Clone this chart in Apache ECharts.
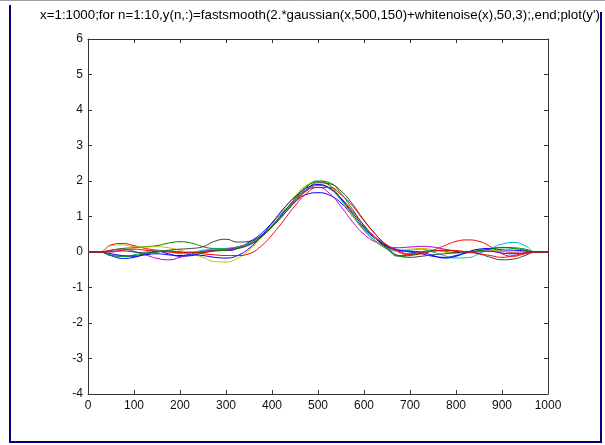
<!DOCTYPE html>
<html>
<head>
<meta charset="utf-8">
<script src="https://cdn.jsdelivr.net/npm/echarts@6/dist/echarts.min.js"></script>
<style>
  html, body { margin: 0; padding: 0; background: #fff; }
  #chart { width: 605px; height: 445px; }
</style>
</head>
<body>
<div id="chart"></div>
<script>
// x positions of the sampled points
var xs = [0, 25, 50, 75, 100, 125, 150, 175, 200, 225, 250, 275, 300, 325, 350, 375, 400, 425, 450, 475,
          500, 525, 550, 575, 600, 625, 650, 675, 700, 725, 750, 775, 800, 825, 850, 875, 900, 925, 950, 975, 1000];

// ten smoothed noisy gaussians
var y1 = [0, 0, -0.10, -0.18, -0.15, -0.05, 0.02, -0.05, -0.12, -0.10, -0.02, 0.05, 0.04, 0.10, 0.28, 0.50, 0.82, 1.15, 1.42, 1.62,
          1.67, 1.60, 1.38, 1.02, 0.66, 0.38, 0.18, 0.06, 0.00, -0.05, -0.12, -0.15, -0.10, -0.02, 0.03, 0.02, -0.03, -0.05, -0.03, 0, 0];
var y2 = [0, 0, 0.05, 0.10, 0.12, 0.15, 0.18, 0.25, 0.29, 0.25, 0.15, 0.10, 0.10, 0.15, 0.25, 0.45, 0.75, 1.12, 1.50, 1.85,
          1.98, 1.88, 1.50, 1.05, 0.62, 0.30, 0.08, -0.10, -0.08, 0.00, 0.05, 0.02, -0.02, 0.00, 0.05, 0.10, 0.13, 0.12, 0.08, 0, 0];
var y3 = [0, 0, 0.20, 0.24, 0.18, 0.10, 0.05, 0.02, 0.00, -0.03, -0.02, 0.03, 0.05, 0.10, 0.20, 0.40, 0.70, 1.05, 1.40, 1.72,
          1.88, 1.80, 1.52, 1.15, 0.75, 0.42, 0.18, 0.00, -0.08, -0.05, 0.05, 0.18, 0.30, 0.34, 0.30, 0.15, -0.05, -0.12, -0.05, 0, 0];
var y4 = [0, 0, -0.08, -0.12, -0.08, 0.00, 0.05, 0.02, -0.05, -0.02, 0.05, 0.08, 0.10, 0.14, 0.25, 0.42, 0.70, 1.05, 1.45, 1.75,
          1.88, 1.78, 1.45, 1.02, 0.62, 0.32, 0.12, 0.02, 0.05, 0.08, 0.00, -0.10, -0.17, -0.16, -0.05, 0.10, 0.22, 0.27, 0.18, 0, 0];
var y5 = [0, 0, 0.05, 0.08, 0.02, -0.08, -0.18, -0.22, -0.15, -0.05, 0.02, 0.05, 0.08, 0.12, 0.22, 0.40, 0.72, 1.10, 1.48, 1.75,
          1.82, 1.65, 1.28, 0.85, 0.50, 0.28, 0.16, 0.12, 0.14, 0.16, 0.14, 0.08, 0.02, -0.02, 0.00, 0.03, 0.02, -0.02, -0.03, 0, 0];
var y6 = [0, 0, 0.18, 0.20, 0.15, 0.14, 0.15, 0.12, 0.05, -0.05, -0.15, -0.27, -0.28, -0.18, 0.05, 0.38, 0.78, 1.20, 1.58, 1.88,
          1.98, 1.85, 1.48, 1.02, 0.60, 0.30, 0.12, 0.06, 0.08, 0.10, 0.06, 0.00, -0.04, 0.00, 0.05, 0.06, 0.02, 0.00, 0.02, 0, 0];
var y7 = [0, 0, 0.02, 0.03, 0.00, -0.03, 0.00, 0.05, 0.08, 0.10, 0.15, 0.30, 0.36, 0.28, 0.30, 0.45, 0.72, 1.05, 1.42, 1.75,
          1.95, 1.92, 1.72, 1.35, 0.90, 0.50, 0.15, -0.10, -0.15, -0.12, -0.08, -0.05, -0.02, 0.00, -0.05, -0.15, -0.22, -0.20, -0.10, 0, 0];
var y8 = [0, 0, -0.05, -0.10, -0.12, -0.08, -0.05, -0.08, -0.10, -0.08, -0.10, -0.15, -0.17, -0.10, 0.10, 0.42, 0.82, 1.22, 1.55, 1.80,
          1.90, 1.80, 1.50, 1.10, 0.70, 0.38, 0.15, 0.05, 0.02, 0.00, -0.10, -0.17, -0.12, 0.00, 0.08, 0.10, 0.06, 0.05, 0.03, 0, 0];
var y9 = [0, 0, -0.10, -0.12, -0.10, -0.05, 0.00, 0.03, 0.00, -0.02, 0.00, 0.03, 0.05, 0.10, 0.20, 0.40, 0.72, 1.10, 1.50, 1.82,
          2.00, 1.95, 1.65, 1.20, 0.75, 0.38, 0.10, -0.12, -0.10, -0.02, 0.03, 0.05, 0.02, 0.00, 0.04, 0.08, 0.12, 0.10, 0.05, 0, 0];
var y10 = [0, 0, 0.00, 0.05, 0.08, 0.05, 0.02, 0.00, -0.02, 0.00, -0.05, -0.08, -0.10, -0.10, -0.05, 0.15, 0.48, 0.88, 1.30, 1.65,
           1.82, 1.82, 1.62, 1.30, 0.88, 0.50, 0.20, 0.02, -0.05, -0.02, 0.02, 0.05, 0.04, 0.00, -0.05, -0.10, -0.15, -0.10, -0.03, 0, 0];

var aoY = [y1, y2, y3, y4, y5, y6, y7, y8, y9, y10];
// old matlab colour order, cycled
var acColor = ['#0000ff', '#008000', '#ff0000', '#00bfbf', '#bf00bf', '#bfbf00', '#404040', '#0000ff', '#008000', '#ff0000'];

var cTitle = "x=1:1000;for n=1:10,y(n,:)=fastsmooth(2.*gaussian(x,500,150)+whitenoise(x),50,3);,end;plot(y')";
var cFont = "'Liberation Sans', Arial, sans-serif";

var aoSer = [];
for (var i = 0; i < aoY.length; i++) {
    var aData = [];
    for (var j = 0; j < xs.length; j++) {
        aData.push([xs[j], aoY[i][j]]);
    }
    aoSer.push({
        type: 'line',
        data: aData,
        smooth: 0.5,
        symbol: 'none',
        silent: true,
        lineStyle: { color: acColor[i], width: 1 },
        z: 2 + i
    });
}

var oAxisLine = { show: true, onZero: false, lineStyle: { color: '#333', width: 1 } };
var oTick = { show: true, inside: true, length: 4, lineStyle: { color: '#333' } };

var oChart = echarts.init(document.getElementById('chart'), null, { renderer: 'canvas' });
oChart.setOption({
    animation: false,
    backgroundColor: '#fff',
    title: {
        text: cTitle,
        left: 315,
        top: 4,
        textAlign: 'center',
        textStyle: { fontFamily: cFont, fontSize: 13.3, fontWeight: 'normal', color: '#000' }
    },
    grid: { left: 88, top: 39, width: 460, height: 355, containLabel: false },
    xAxis: [{
        type: 'value', min: 0, max: 1000, interval: 100,
        position: 'bottom',
        axisLine: oAxisLine, axisTick: oTick,
        axisLabel: { fontFamily: cFont, fontSize: 12, color: '#111', margin: 6,
            formatter: function (v) { return String(v); } },
        splitLine: { show: false }
    }, {
        type: 'value', min: 0, max: 1000, interval: 100,
        position: 'top',
        axisLine: oAxisLine, axisTick: oTick,
        axisLabel: { show: false },
        splitLine: { show: false }
    }],
    yAxis: [{
        type: 'value', min: -4, max: 6, interval: 1,
        position: 'left',
        axisLine: oAxisLine, axisTick: oTick,
        axisLabel: { fontFamily: cFont, fontSize: 12, color: '#111', margin: 5 },
        splitLine: { show: false }
    }, {
        type: 'value', min: -4, max: 6, interval: 1,
        position: 'right',
        axisLine: oAxisLine, axisTick: oTick,
        axisLabel: { show: false },
        splitLine: { show: false }
    }],
    graphic: [
        { type: 'line', shape: { x1: 0, y1: 0.5, x2: 605, y2: 0.5 }, style: { stroke: '#a0a0a0', lineWidth: 1 }, silent: true },
        { type: 'rect', shape: { x: 9, y: 5, width: 2, height: 438 }, style: { fill: '#000080' }, silent: true },
        { type: 'rect', shape: { x: 600, y: 12, width: 2, height: 431 }, style: { fill: '#000080' }, silent: true },
        { type: 'rect', shape: { x: 9, y: 441, width: 593, height: 2 }, style: { fill: '#000080' }, silent: true }
    ],
    series: aoSer
});
</script>
</body>
</html>
